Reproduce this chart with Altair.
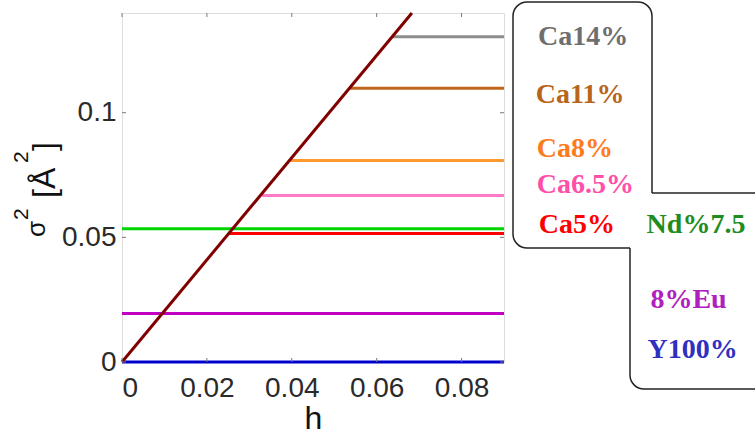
import altair as alt
import pandas as pd
import math

# ---- data ----
series = ["Ca14%", "Ca11%", "Ca8%", "Ca6.5%", "Ca5%", "Nd%7.5", "8%Eu", "Y100%"]
sigma2 = [0.1305, 0.1098, 0.0808, 0.0668, 0.0515, 0.0535, 0.0195, 0.0]
h_start = [0.0637, 0.0536, 0.0393, 0.0330, 0.0253, 0.0, 0.0, 0.0]
h_end = [0.09, 0.09, 0.09, 0.09, 0.09, 0.09, 0.09, 0.09]

diag_h = [0.0, 0.0683]
diag_s = [0.0, 0.14]

x_ticks = [0, 0.02, 0.04, 0.06, 0.08]
y_ticks = [0, 0.05, 0.1]

# ---- styles / label placement (kept apart from the values) ----
line_colors = ["#8c8c8c", "#c0661c", "#ff9a2e", "#ff7ac8", "#ff0000", "#00d400", "#c000c0", "#0000cc"]
text_colors = ["#6e6e6e", "#b8651b", "#ff7a1a", "#ff4fa8", "#ff0000", "#1e8c1e", "#b020c0", "#3030c0"]
label_h = [0.0980, 0.0975, 0.0977, 0.0977, 0.0982, 0.1236, 0.1245, 0.1238]
label_s = [0.1302, 0.1073, 0.0853, 0.0709, 0.0548, 0.0548, 0.0247, 0.0047]

W, H = 382, 349
L, T = 122, 13

lines_df = pd.DataFrame({"series": series, "s": sigma2, "h0": h_start, "h1": h_end, "c": line_colors})
labels_df = pd.DataFrame({"series": series, "lh": label_h, "ls": label_s, "c": text_colors})
diag_df = pd.DataFrame({"h": diag_h, "s": diag_s})
xt_df = pd.DataFrame({"v": x_ticks})
yt_df = pd.DataFrame({"v": y_ticks})
one = pd.DataFrame({"d": [0]})

xscale = alt.Scale(domain=[0, 0.09], nice=False, zero=False)
yscale = alt.Scale(domain=[0, 0.14], nice=False, zero=False)

axis_common = dict(
    labelFont="Liberation Sans", labelFontSize=28, labelColor="#2a2a2a",
    titleFont="Liberation Sans", titleColor="#111111", titleFontWeight="normal",
    tickSize=0, domain=False, grid=False, format="~g",
)

hl = alt.Chart(lines_df).mark_rule(strokeWidth=3).encode(
    x=alt.X("h0:Q", scale=xscale,
            axis=alt.Axis(values=x_ticks, title="h", titleFontSize=32,
                          labelPadding=12, titlePadding=1, **axis_common)),
    x2="h1:Q",
    y=alt.Y("s:Q", scale=yscale,
            axis=alt.Axis(values=y_ticks, title=None, labelPadding=6, **axis_common)),
    color=alt.Color("c:N", scale=None),
)

diag = alt.Chart(diag_df).mark_line(color="#800000", strokeWidth=3).encode(
    x=alt.X("h:Q", scale=xscale), y=alt.Y("s:Q", scale=yscale)
)

tick_col = "#7a7a7a"
tb = alt.Chart(xt_df).mark_rule(color=tick_col, strokeWidth=1).encode(
    x=alt.X("v:Q", scale=xscale), y=alt.value(H), y2=alt.value(H - 4))
tt = alt.Chart(xt_df).mark_rule(color=tick_col, strokeWidth=1).encode(
    x=alt.X("v:Q", scale=xscale), y=alt.value(0), y2=alt.value(4))
tl = alt.Chart(yt_df).mark_rule(color=tick_col, strokeWidth=1).encode(
    y=alt.Y("v:Q", scale=yscale), x=alt.value(0), x2=alt.value(4))
tr = alt.Chart(yt_df).mark_rule(color=tick_col, strokeWidth=1).encode(
    y=alt.Y("v:Q", scale=yscale), x=alt.value(W), x2=alt.value(W - 4))

labels = alt.Chart(labels_df).mark_text(
    font="Liberation Serif", fontWeight="bold", fontSize=28, align="left", baseline="middle"
).encode(
    x=alt.X("lh:Q", scale=xscale), y=alt.Y("ls:Q", scale=yscale),
    text="series:N", color=alt.Color("c:N", scale=None),
)

# ---- y-axis title "σ² [Å²]" with raised superscripts, rotated ----
ytitle_parts = [
    ("σ", 26, 45, 237),
    ("2", 21, 28, 220),
    ("[Å", 32, 55, 198),
    ("2", 21, 28, 163),
    ("]", 32, 55, 151),
]
ytitle_layers = [
    alt.Chart(one).mark_text(
        text=txt, font="Liberation Sans", fontSize=fs, angle=270, align="left",
        baseline="alphabetic", color="#111111"
    ).encode(x=alt.value(bx - L), y=alt.value(by - T))
    for txt, fs, bx, by in ytitle_parts
]

# ---- callout box outline (decoration, window pixels shifted to plot origin) ----
r = 14
bx_l, bx_t, bx_r, step_y = 513 - L, 2 - T, 652 - L, 193 - T
bx_b, b_l, b_b, right_end = 248 - T, 630 - L, 389 - T, 760 - L
box_col = "#222222"
sw = 1.5
segs = [
    dict(x=alt.value(bx_l), y=alt.value(bx_t + r), y2=alt.value(bx_b - r)),
    dict(y=alt.value(bx_t), x=alt.value(bx_l + r), x2=alt.value(bx_r - r)),
    dict(x=alt.value(bx_r), y=alt.value(bx_t + r), y2=alt.value(step_y)),
    dict(y=alt.value(step_y), x=alt.value(bx_r), x2=alt.value(right_end)),
    dict(y=alt.value(bx_b), x=alt.value(bx_l + r), x2=alt.value(b_l)),
    dict(x=alt.value(b_l), y=alt.value(bx_b), y2=alt.value(b_b - r)),
    dict(y=alt.value(b_b), x=alt.value(b_l + r), x2=alt.value(right_end)),
]
box_layers = [alt.Chart(one).mark_rule(color=box_col, strokeWidth=sw).encode(**s) for s in segs]

corners = [
    (bx_l + r, bx_t + r, 1.5 * math.pi, 2 * math.pi),
    (bx_r - r, bx_t + r, 0.0, 0.5 * math.pi),
    (bx_l + r, bx_b - r, math.pi, 1.5 * math.pi),
    (b_l + r, b_b - r, math.pi, 1.5 * math.pi),
]
for cx, cy, t0, t1 in corners:
    box_layers.append(
        alt.Chart(one).mark_arc(radius=r + sw / 2, radius2=r - sw / 2, theta=t0, theta2=t1,
                                color=box_col).encode(x=alt.value(cx), y=alt.value(cy))
    )

chart = alt.layer(hl, diag, tb, tt, tl, tr, labels, *ytitle_layers, *box_layers).properties(
    width=W, height=H,
    autosize=alt.AutoSizeParams(type="none"),
    padding={"left": L, "top": T, "right": 755 - L - W, "bottom": 438 - T - H},
).configure_view(stroke="#808080", strokeWidth=1.5).configure(background="white")

chart.save("out.html", embed_options={"renderer": "svg", "actions": False})
